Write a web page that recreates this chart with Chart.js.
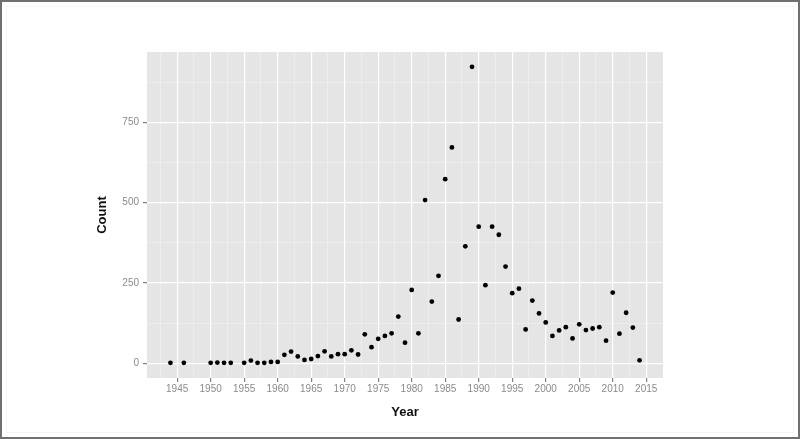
<!DOCTYPE html>
<html>
<head>
<meta charset="utf-8">
<script src="https://cdn.jsdelivr.net/npm/chart.js@4/dist/chart.umd.min.js"></script>
<style>
    html, body { margin: 0; padding: 0; background: #fff; }
    canvas { display: block; }
</style>
</head>
<body>
<canvas id="count-chart" width="800" height="439"></canvas>
<script>
const years = [1944, 1946, 1950, 1951, 1952, 1953, 1955, 1956, 1957, 1958, 1959, 1960,
    1961, 1962, 1963, 1964, 1965, 1966, 1967, 1968, 1969, 1970, 1971, 1972, 1973, 1974,
    1975, 1976, 1977, 1978, 1979, 1980, 1981, 1982, 1983, 1984, 1985, 1986, 1987, 1988,
    1989, 1990, 1991, 1992, 1993, 1994, 1995, 1996, 1997, 1998, 1999, 2000, 2001, 2002,
    2003, 2004, 2005, 2006, 2007, 2008, 2009, 2010, 2011, 2012, 2013, 2014];
const counts = [1, 1, 1, 2, 1, 1, 1, 8, 1, 1, 4, 4,
    26, 36, 21, 10, 13, 22, 37, 21, 28, 28, 40, 27, 90, 50,
    76, 85, 93, 145, 64, 228, 93, 508, 192, 272, 573, 672, 136, 364,
    923, 425, 243, 425, 400, 301, 218, 232, 105, 195, 155, 127, 85, 102,
    112, 77, 121, 103, 108, 112, 70, 220, 92, 157, 111, 9];
const xTicks = [1945, 1950, 1955, 1960, 1965, 1970, 1975, 1980, 1985, 1990, 1995, 2000, 2005, 2010, 2015];
const yTicks = [0, 250, 500, 750];

// ggplot style: major breaks plus minor breaks half way between them
function withMinors(major, min, max) {
    const step = major[1] - major[0];
    const all = [];
    for (let i = -1; i < major.length; i++) {
        const v = i < 0 ? major[0] : major[i];
        if (i >= 0) all.push(v);
        const m = i < 0 ? major[0] - step / 2 : major[i] + step / 2;
        if (m > min && m < max) all.push(m);
    }
    return all.sort((a, b) => a - b);
}

const xMin = 1940.5, xMax = 2017.5;
const yMin = -46.15, yMax = 969.15;

const panel = {
    id: 'panel',
    beforeDraw(chart) {
        const c = chart.ctx, a = chart.chartArea;
        c.save();
        c.fillStyle = '#fff';
        c.fillRect(0, 0, chart.width, chart.height);
        c.strokeStyle = '#f5f5f5';
        c.lineWidth = 1;
        c.strokeRect(6.5, 6.5, chart.width - 13, chart.height - 13);
        c.strokeStyle = '#707070';
        c.lineWidth = 2;
        c.strokeRect(1, 1, chart.width - 2, chart.height - 2);
        c.fillStyle = '#e5e5e5';
        c.fillRect(a.left, a.top, a.right - a.left, a.bottom - a.top);
        c.restore();
    }
};

function isMajor(list, v) {
    return list.indexOf(v) !== -1;
}

var ctx = document.getElementById('count-chart').getContext('2d');
var countChart = new Chart(ctx, {
    type: 'scatter',
    data: {
        datasets: [{
            data: years.map((y, i) => ({ x: y, y: counts[i] })),
            backgroundColor: '#000',
            borderColor: '#000',
            borderWidth: 0,
            pointRadius: 2.4
        }]
    },
    options: {
        responsive: false,
        animation: false,
        devicePixelRatio: 1,
        layout: {
            padding: { left: 95, top: 52, right: 137, bottom: 19 }
        },
        plugins: {
            legend: { display: false },
            tooltip: { enabled: false }
        },
        scales: {
            x: {
                type: 'linear',
                min: xMin,
                max: xMax,
                afterBuildTicks: s => { s.ticks = withMinors(xTicks, xMin, xMax).map(v => ({ value: v })); },
                afterFit: s => { s.height = 42; },
                border: { display: false },
                grid: {
                    color: c => isMajor(xTicks, c.tick.value) ? '#ffffff' : '#f2f2f2',
                    lineWidth: c => isMajor(xTicks, c.tick.value) ? 1.2 : 0.6,
                    tickColor: c => isMajor(xTicks, c.tick.value) ? '#7f7f7f' : 'rgba(0,0,0,0)',
                    tickLength: 4
                },
                ticks: {
                    autoSkip: false,
                    maxRotation: 0,
                    padding: 1,
                    color: '#8a8a8a',
                    font: { family: 'Liberation Sans', size: 10 },
                    callback: v => isMajor(xTicks, v) ? String(v) : ''
                },
                title: {
                    display: true,
                    text: 'Year',
                    color: '#111',
                    padding: 0,
                    font: { family: 'Liberation Sans', size: 13, weight: 'bold' }
                }
            },
            y: {
                type: 'linear',
                min: yMin,
                max: yMax,
                afterBuildTicks: s => { s.ticks = withMinors(yTicks, yMin, yMax).map(v => ({ value: v })); },
                afterFit: s => { s.width = 52; },
                border: { display: false },
                grid: {
                    color: c => isMajor(yTicks, c.tick.value) ? '#ffffff' : '#f2f2f2',
                    lineWidth: c => isMajor(yTicks, c.tick.value) ? 1.2 : 0.6,
                    tickColor: c => isMajor(yTicks, c.tick.value) ? '#7f7f7f' : 'rgba(0,0,0,0)',
                    tickLength: 4
                },
                ticks: {
                    autoSkip: false,
                    padding: 4,
                    color: '#8a8a8a',
                    font: { family: 'Liberation Sans', size: 10 },
                    callback: v => isMajor(yTicks, v) ? String(v) : ''
                },
                title: {
                    display: true,
                    text: 'Count',
                    color: '#111',
                    padding: 0,
                    font: { family: 'Liberation Sans', size: 13, weight: 'bold' }
                }
            }
        }
    },
    plugins: [panel]
});
</script>
</body>
</html>
